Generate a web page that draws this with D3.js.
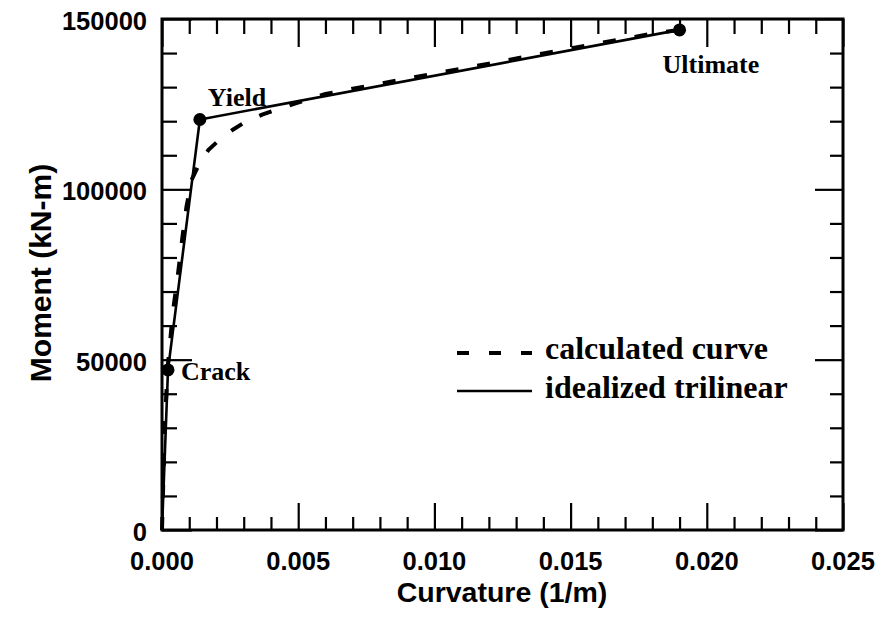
<!DOCTYPE html>
<html>
<head>
<meta charset="utf-8">
<script src="https://cdn.jsdelivr.net/npm/d3@7/dist/d3.min.js"></script>
<style>
  html, body { margin: 0; padding: 0; background: #fff; }
  svg { display: block; }
</style>
</head>
<body>
<svg id="chart" width="887" height="619"></svg>
<script>
// ---- data ----
const xMajorTicks = [0, 0.005, 0.010, 0.015, 0.020, 0.025];
const xTickLabels = ["0.000", "0.005", "0.010", "0.015", "0.020", "0.025"];
const yMajorTicks = [0, 50000, 100000, 150000];
const yTickLabels = ["0", "50000", "100000", "150000"];

const trilinearCurvature = [0, 0.00022, 0.00139, 0.0190];
const trilinearMoment    = [0, 47000, 120500, 146800];

const calcCurvature = [0, 0.00005, 0.0001, 0.0002, 0.0004, 0.0006, 0.00075, 0.0009, 0.0011, 0.0014, 0.0017, 0.0021, 0.0026, 0.0031, 0.0037, 0.0045, 0.006, 0.008, 0.010, 0.012, 0.014, 0.016, 0.018, 0.019];
const calcMoment    = [0, 15000, 30000, 47000, 64000, 76000, 86000, 95000, 103000, 108000, 111500, 114500, 117500, 120000, 122000, 124200, 128000, 131000, 134000, 136900, 139900, 142800, 145700, 146800];

const pointNames = ["Crack", "Yield", "Ultimate"];
const legendLabels = ["calculated curve", "idealized trilinear"];

// ---- layout ----
const svg = d3.select("#chart");
const L = 162, R = 843, T = 19, B = 530;
const x = d3.scaleLinear().domain([0, 0.025]).range([L, R]);
const y = d3.scaleLinear().domain([0, 150000]).range([B, T]);

const xMinor = d3.range(0, 0.0251, 0.001).map(v => +v.toFixed(3)).filter(v => !xMajorTicks.some(m => Math.abs(m - v) < 1e-9));
const yMinor = d3.range(0, 150001, 10000).filter(v => v % 50000 !== 0);

function styleAxis(g) {
  g.select(".domain").remove();
  g.selectAll("line").attr("stroke", "#000").attr("stroke-width", 2.2);
  g.selectAll("text").remove();
}

// bottom
svg.append("g").attr("transform", `translate(0,${B})`)
  .call(d3.axisBottom(x).tickValues(xMajorTicks).tickSize(-27)).call(styleAxis);
svg.append("g").attr("transform", `translate(0,${B})`)
  .call(d3.axisBottom(x).tickValues(xMinor).tickSize(-13)).call(styleAxis);
// top
svg.append("g").attr("transform", `translate(0,${T})`)
  .call(d3.axisTop(x).tickValues(xMajorTicks).tickSize(-28)).call(styleAxis);
svg.append("g").attr("transform", `translate(0,${T})`)
  .call(d3.axisTop(x).tickValues(xMinor).tickSize(-15)).call(styleAxis);
// left
svg.append("g").attr("transform", `translate(${L},0)`)
  .call(d3.axisLeft(y).tickValues(yMajorTicks).tickSize(-30)).call(styleAxis);
svg.append("g").attr("transform", `translate(${L},0)`)
  .call(d3.axisLeft(y).tickValues(yMinor).tickSize(-15)).call(styleAxis);
// right
svg.append("g").attr("transform", `translate(${R},0)`)
  .call(d3.axisRight(y).tickValues(yMajorTicks).tickSize(-28)).call(styleAxis);
svg.append("g").attr("transform", `translate(${R},0)`)
  .call(d3.axisRight(y).tickValues(yMinor).tickSize(-13)).call(styleAxis);

// frame
svg.append("rect").attr("x", L).attr("y", T).attr("width", R - L).attr("height", B - T)
  .attr("fill", "none").attr("stroke", "#000").attr("stroke-width", 3);

// tick labels
const sans = "'Liberation Sans', Arial, sans-serif";
const serif = "'Liberation Serif', 'Times New Roman', serif";
svg.append("g").selectAll("text").data(xMajorTicks).join("text")
  .attr("x", d => x(d)).attr("y", B + 40)
  .attr("text-anchor", "middle")
  .attr("font-family", sans).attr("font-weight", "bold").attr("font-size", 25.5)
  .text((d, i) => xTickLabels[i]);
svg.append("g").selectAll("text").data(yMajorTicks).join("text")
  .attr("x", L - 15).attr("y", d => y(d) + 11)
  .attr("text-anchor", "end")
  .attr("font-family", sans).attr("font-weight", "bold").attr("font-size", 25.5)
  .text((d, i) => yTickLabels[i]);

// axis titles
svg.append("text").attr("x", 502).attr("y", 602)
  .attr("text-anchor", "middle")
  .attr("font-family", sans).attr("font-weight", "bold").attr("font-size", 28.5)
  .text("Curvature (1/m)");
svg.append("text").attr("transform", `translate(51,273) rotate(-90)`)
  .attr("text-anchor", "middle")
  .attr("font-family", sans).attr("font-weight", "bold").attr("font-size", 30)
  .text("Moment (kN-m)");

// curves
const line = d3.line().x(d => x(d[0])).y(d => y(d[1]));
const calcData = calcCurvature.map((c, i) => [c, calcMoment[i]]);
const triData = trilinearCurvature.map((c, i) => [c, trilinearMoment[i]]);

svg.append("path").datum(calcData).attr("d", line)
  .attr("fill", "none").attr("stroke", "#000").attr("stroke-width", 4)
  .attr("stroke-dasharray", "13,19");
svg.append("path").datum(triData).attr("d", line)
  .attr("fill", "none").attr("stroke", "#000").attr("stroke-width", 2.6);

// points
const pts = triData.slice(1);
svg.append("g").selectAll("circle").data(pts).join("circle")
  .attr("cx", d => x(d[0])).attr("cy", d => y(d[1])).attr("r", 6.5).attr("fill", "#000");

// point labels
const labelOffsets = [[13, 10], [8, -13], [-17, 43]];
svg.append("g").selectAll("text").data(pts).join("text")
  .attr("x", (d, i) => x(d[0]) + labelOffsets[i][0])
  .attr("y", (d, i) => y(d[1]) + labelOffsets[i][1])
  .attr("font-family", serif).attr("font-weight", "bold").attr("font-size", 26)
  .text((d, i) => pointNames[i]);

// legend
const lg = svg.append("g");
lg.append("line").attr("x1", 457).attr("x2", 532).attr("y1", 353).attr("y2", 353)
  .attr("stroke", "#000").attr("stroke-width", 4).attr("stroke-dasharray", "12,20");
lg.append("line").attr("x1", 457).attr("x2", 532).attr("y1", 391).attr("y2", 391)
  .attr("stroke", "#000").attr("stroke-width", 2.6);
lg.selectAll("text").data(legendLabels).join("text")
  .attr("x", 545).attr("y", (d, i) => 359 + i * 39)
  .attr("font-family", serif).attr("font-weight", "bold").attr("font-size", 32)
  .text(d => d);
</script>
</body>
</html>
